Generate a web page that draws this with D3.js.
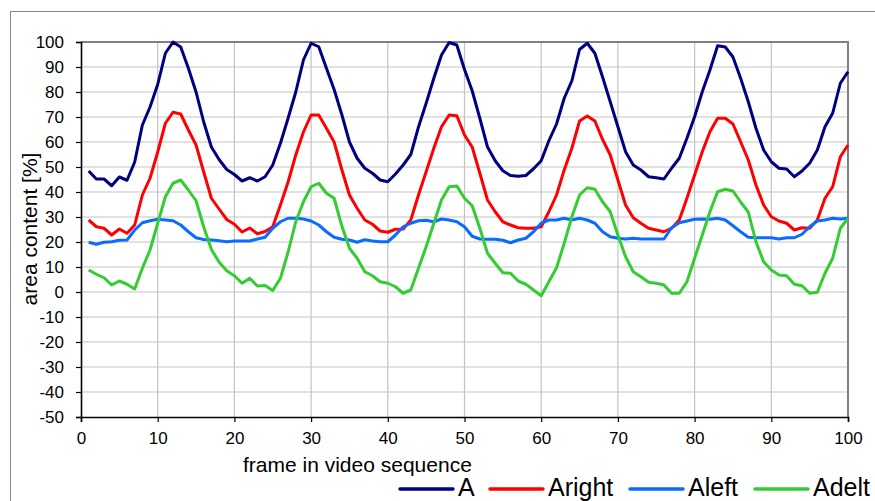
<!DOCTYPE html>
<html>
<head>
<meta charset="utf-8">
<script src="https://cdn.jsdelivr.net/npm/d3@7"></script>
<style>
  body { margin: 0; background: #fff; }
  svg { display: block; font-family: "Liberation Sans", Arial, sans-serif; }
</style>
</head>
<body>
<svg id="chart" width="875" height="501"></svg>
<script>
// Frame numbers along the video sequence
const frames = d3.range(1, 101);

// Area content per frame, in percent
const seriesA = [
  48.4, 45.2, 45.2, 42.5, 46.0, 44.7, 52.0, 66.8, 74.0, 83.0,
  95.5, 100.0, 98.0, 89.5, 80.0, 68.0, 58.0, 53.0, 49.0, 47.0,
  44.4, 45.7, 44.4, 46.1, 50.8, 59.5, 69.5, 80.0, 92.8, 99.5,
  98.1, 89.5, 81.0, 71.0, 60.0, 53.5, 49.5, 47.5, 44.8, 44.1,
  47.2, 50.8, 55.0, 66.0, 75.5, 85.5, 94.8, 99.8, 98.8, 89.0,
  80.5, 69.5, 58.0, 52.5, 48.5, 46.6, 46.3, 46.6, 49.3, 52.5,
  60.5, 67.2, 77.5, 84.5, 97.0, 99.5, 95.5, 86.0, 76.1, 66.1,
  56.1, 50.8, 48.8, 46.1, 45.7, 45.2, 49.5, 53.5, 61.5, 70.1,
  80.1, 88.8, 98.5, 98.0, 94.0, 85.5, 76.1, 65.5, 56.8, 52.1,
  49.5, 49.2, 46.1, 48.4, 51.5, 56.8, 66.1, 71.5, 83.5, 88.1
];
const seriesAright = [
  28.8, 26.1, 25.5, 22.8, 25.2, 23.5, 26.8, 38.8, 45.5, 56.0,
  67.5, 71.9, 71.2, 64.8, 58.8, 48.0, 37.5, 33.2, 29.0, 27.1,
  24.0, 25.6, 23.3, 24.2, 26.1, 34.8, 44.0, 54.8, 64.0, 70.8,
  70.8, 65.5, 60.0, 49.0, 38.8, 33.5, 28.8, 27.1, 24.4, 23.9,
  25.1, 25.2, 28.8, 38.8, 48.1, 57.5, 66.1, 70.8, 70.5, 62.8,
  58.0, 47.5, 36.8, 32.1, 28.1, 26.8, 25.7, 25.5, 25.5, 26.1,
  32.1, 38.8, 48.8, 57.5, 68.4, 70.4, 68.4, 61.0, 54.8, 44.8,
  34.8, 29.7, 27.5, 25.5, 24.8, 24.1, 25.5, 28.8, 37.5, 46.8,
  56.1, 64.1, 69.5, 69.5, 67.2, 60.1, 52.8, 42.8, 34.8, 30.1,
  28.4, 27.5, 24.8, 25.7, 25.5, 28.8, 37.5, 42.1, 54.1, 58.8
];
const seriesAleft = [
  19.9, 19.1, 19.9, 20.1, 20.7, 20.8, 24.8, 27.7, 28.5, 29.1,
  28.8, 28.5, 26.8, 24.1, 21.7, 21.0, 20.8, 20.5, 20.1, 20.4,
  20.4, 20.4, 21.2, 21.9, 25.5, 28.1, 29.5, 29.5, 29.2, 28.4,
  26.8, 24.1, 21.9, 21.1, 20.8, 19.9, 20.9, 20.4, 20.1, 20.1,
  22.8, 26.1, 27.5, 28.5, 28.7, 28.1, 29.2, 28.8, 28.1, 26.1,
  22.3, 21.2, 21.1, 21.1, 20.7, 19.7, 20.8, 21.5, 24.1, 27.5,
  28.8, 28.8, 29.5, 28.8, 29.5, 28.8, 27.5, 24.1, 22.1, 21.5,
  21.2, 21.5, 21.2, 21.2, 21.2, 21.2, 25.7, 27.7, 28.4, 29.1,
  29.2, 29.1, 29.5, 28.8, 26.5, 24.1, 21.9, 21.7, 21.7, 21.7,
  21.2, 21.7, 21.7, 23.1, 26.1, 28.4, 28.8, 29.5, 29.2, 29.5
];
const seriesAdelt = [
  8.8, 7.1, 5.7, 2.8, 4.4, 3.1, 1.2, 9.5, 16.8, 27.5,
  38.1, 43.5, 44.8, 40.8, 36.5, 26.0, 17.0, 12.0, 8.5, 6.5,
  3.5, 5.5, 2.4, 2.6, 0.6, 5.5, 16.0, 28.1, 36.1, 42.1,
  43.5, 39.5, 37.5, 26.5, 17.5, 13.5, 8.1, 6.5, 4.1, 3.5,
  2.1, -0.5, 0.8, 9.5, 18.1, 27.5, 36.8, 42.1, 42.4, 37.5,
  34.5, 25.5, 15.5, 11.5, 7.7, 7.5, 4.4, 3.1, 0.8, -1.5,
  4.1, 9.7, 19.5, 30.1, 38.8, 41.7, 41.1, 36.1, 32.1, 22.8,
  14.1, 8.1, 6.1, 3.9, 3.5, 2.8, -0.5, -0.5, 4.1, 13.5,
  22.8, 32.1, 40.1, 41.1, 40.4, 36.0, 32.0, 20.1, 12.1, 8.8,
  6.8, 6.5, 3.1, 2.5, -0.5, -0.1, 7.5, 13.5, 25.5, 29.5
];

const seriesNames = ["A", "Aright", "Aleft", "Adelt"];
const seriesValues = [seriesA, seriesAright, seriesAleft, seriesAdelt];
const seriesColors = ["#000080", "#ff0000", "#0a6cff", "#33cc33"];

const xTicks = d3.range(0, 101, 10);
const yTicks = d3.range(-50, 101, 10);
const xTitle = "frame in video sequence";
const yTitle = "area content [%]";

const svg = d3.select("#chart");
const plot = { left: 81, right: 848, top: 42, bottom: 417 };

const x = d3.scaleLinear().domain([0, 100]).range([plot.left, plot.right]);
const y = d3.scaleLinear().domain([-50, 100]).range([plot.bottom, plot.top]);

// outer chart frame (runs off the right and bottom edges)
svg.append("rect")
  .attr("x", 10.5).attr("y", 11.5)
  .attr("width", 900).attr("height", 520)
  .attr("fill", "none").attr("stroke", "#888").attr("stroke-width", 1);

// grid
svg.append("g")
  .selectAll("line")
  .data(yTicks.filter(d => d > -50 && d < 100))
  .join("line")
  .attr("x1", plot.left).attr("x2", plot.right)
  .attr("y1", d => y(d)).attr("y2", d => y(d))
  .attr("stroke", "#c4c4c4").attr("stroke-width", 1.2);

svg.append("g")
  .selectAll("line")
  .data(xTicks.filter(d => d > 0 && d < 100))
  .join("line")
  .attr("x1", d => x(d)).attr("x2", d => x(d))
  .attr("y1", plot.top).attr("y2", plot.bottom)
  .attr("stroke", "#c4c4c4").attr("stroke-width", 1.2);

// top and right borders of the plot area
svg.append("path")
  .attr("d", `M${plot.left},${plot.top}H${plot.right}V${plot.bottom}`)
  .attr("fill", "none").attr("stroke", "#808080").attr("stroke-width", 2);

// axes (plain hyphen for negative numbers)
const plainNumber = d => String(d);
const xAxis = d3.axisBottom(x).tickValues(xTicks).tickSize(5).tickPadding(10)
  .tickFormat(plainNumber);
const yAxis = d3.axisLeft(y).tickValues(yTicks).tickSize(5).tickPadding(12)
  .tickFormat(plainNumber);

const gx = svg.append("g").attr("transform", `translate(0,${plot.bottom})`).call(xAxis);
const gy = svg.append("g").attr("transform", `translate(${plot.left},0)`).call(yAxis);

[gx, gy].forEach(g => {
  g.select(".domain").attr("stroke", "#000").attr("stroke-width", 1.6);
  g.selectAll(".tick line").attr("stroke", "#000").attr("stroke-width", 1.2);
  g.selectAll(".tick text")
    .attr("fill", "#000")
    .attr("font-family", "Liberation Sans, Arial, sans-serif")
    .attr("font-size", 17);
});
gx.selectAll(".tick text").attr("dy", "0.71em");

// axis titles
svg.append("text")
  .attr("x", 243).attr("y", 472)
  .attr("font-size", 21).attr("fill", "#000")
  .text(xTitle);

svg.append("text")
  .attr("transform", "translate(37,229) rotate(-90)")
  .attr("text-anchor", "middle")
  .attr("font-size", 21).attr("fill", "#000")
  .text(yTitle);

// series lines
const line = d3.line()
  .x((d, i) => x(frames[i]))
  .y(d => y(d));

svg.append("g")
  .selectAll("path")
  .data(seriesValues.map((v, i) => ({ values: v, color: seriesColors[i] })))
  .join("path")
  .attr("d", d => line(d.values))
  .attr("fill", "none")
  .attr("stroke", d => d.color)
  .attr("stroke-width", 3)
  .attr("stroke-linejoin", "round");

// legend
const legendX = [400, 490, 630, 755];
const legend = svg.append("g");
seriesNames.forEach((name, i) => {
  legend.append("line")
    .attr("x1", legendX[i]).attr("x2", legendX[i] + 53)
    .attr("y1", 489).attr("y2", 489)
    .attr("stroke", seriesColors[i]).attr("stroke-width", 3.5)
    .attr("stroke-linecap", "round");
  legend.append("text")
    .attr("x", legendX[i] + 58).attr("y", 496)
    .attr("font-size", 25).attr("fill", "#000")
    .text(name);
});
</script>
</body>
</html>
